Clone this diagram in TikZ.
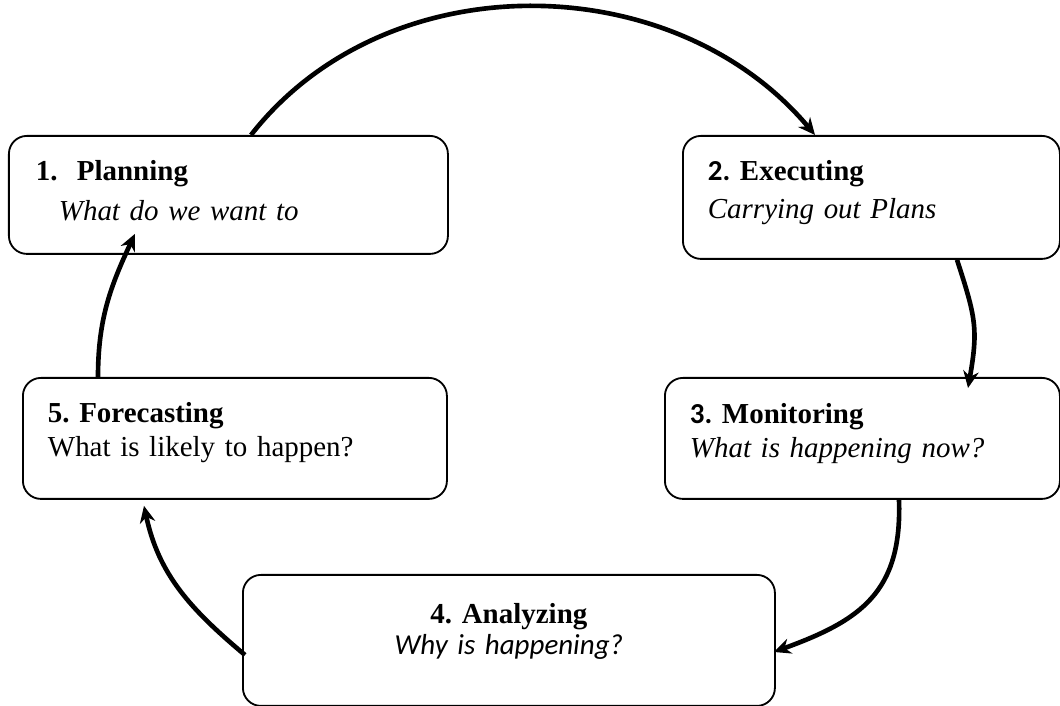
\documentclass[tikz,border=0pt]{standalone}
\usepackage{fontspec}
\setmainfont{Liberation Serif}
\newfontfamily\calib{Carlito}
\frenchspacing
\usetikzlibrary{arrows.meta}

\begin{document}
\begin{tikzpicture}[>={Stealth[length=12pt,width=11pt]}, line join=round]
		\tikzstyle{stage}=[draw,line width=1.3pt,rounded corners=0.45cm,anchor=north west,inner ysep=0pt,inner xsep=0.625cm,align=left,font=\fontsize{20.6}{21.3}\selectfont]
		\tikzstyle{cycle}=[->,line width=3.3pt]

		\useasboundingbox (0,0) rectangle (26.5,17.65);

		\node[stage,inner xsep=0.675cm,text width=9.625cm,text height=1.125cm,text depth=1.825cm](plan) at (0.2,14.275)
			{\textbf{1.\ \ Planning}\\[0.25cm]\hspace*{0.575cm}\textit{What do we want to}};
		\node[stage,text width=8.175cm,text height=1.125cm,text depth=1.95cm](exec) at (17.05,14.275)
			{{\calib\bfseries 2.}\textbf{ Executing}\\[0.2cm]\textit{Carrying out Plans}};
		\node[stage,text width=8.625cm,text height=1.15cm,text depth=1.875cm](mon) at (16.6,8.225)
			{{\calib\bfseries 3.}\textbf{ Monitoring}\\[0.1cm]\textit{What is happening now?}};
		\node[stage,align=center,text width=12.05cm,text height=1.225cm,text depth=2.05cm](anal) at (6.05,3.3)
			{\textbf{4. Analyzing}\\[0.02cm]{\calib\itshape Why is happening?}};
		\node[stage,text width=9.35cm,text height=1.125cm,text depth=1.9cm](fore) at (0.55,8.225)
			{\textbf{5. Forecasting}\\[0.1cm]What is likely to happen?};

		% the cycle
		\draw[cycle] ([xshift=6.075cm]plan.north west) to[out=52,in=130] ([xshift=3.325cm]exec.north west);
		\draw[cycle] ([xshift=6.875cm]exec.south west) to[out=-72,in=80,looseness=1.2] ([xshift=7.6cm,yshift=-0.275cm]mon.north west);
		\draw[cycle] ([xshift=5.875cm]mon.south west) to[out=-88,in=20,looseness=1.2] ([xshift=-0.05cm,yshift=-1.95cm]anal.north east);
		\draw[cycle] ([xshift=0.075cm,yshift=-2.025cm]anal.north west) to[out=140,in=-78] ([xshift=3.05cm,yshift=-0.15cm]fore.south west);
		\draw[cycle] ([xshift=1.9cm]fore.north west) to[out=90,in=-115] ([xshift=3.175cm,yshift=0.525cm]plan.south west);
	\end{tikzpicture}
\end{document}
